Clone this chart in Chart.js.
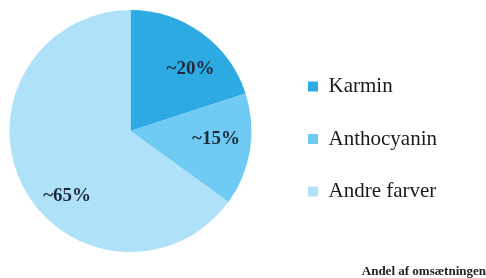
<!DOCTYPE html>
<html>
<head>
<meta charset="utf-8">
<script src="https://cdn.jsdelivr.net/npm/chart.js@4"></script>
<style>
  html, body { margin: 0; padding: 0; background: #fff; }
  #wrap { width: 486px; height: 278px; position: relative; }
</style>
</head>
<body>
<div id="wrap"><canvas id="pieChart"></canvas></div>
<script>
// chart data
const categories = ["Karmin", "Anthocyanin", "Andre farver"];
const shares = [20, 15, 65];
const sliceLabels = ["~20%", "~15%", "~65%"];
const sliceColors = ["#2eaae2", "#6fcbf3", "#afe1f9"];
const footText = "Andel af omsætningen";

// draws the ~xx% text inside each slice
const sliceText = {
  id: "sliceText",
  afterDatasetsDraw(chart, args, opts) {
    const ctx = chart.ctx;
    const arcs = chart.getDatasetMeta(0).data;
    ctx.save();
    ctx.font = opts.font;
    ctx.fillStyle = opts.color;
    ctx.textAlign = "center";
    ctx.textBaseline = "middle";
    arcs.forEach((arc, i) => {
      const p = arc.getProps(["x", "y", "startAngle", "endAngle", "outerRadius"], true);
      const a = p.startAngle + (p.endAngle - p.startAngle) * opts.along[i];
      const r = p.outerRadius * opts.radius[i];
      ctx.fillText(sliceLabels[i], p.x + Math.cos(a) * r, p.y + Math.sin(a) * r);
    });
    ctx.restore();
  }
};

// keep the pie on the left and move the legend a bit to the right
const legendSpot = {
  id: "legendSpot",
  beforeUpdate(chart, args, opts) {
    const legend = chart.legend;
    if (legend && !legend._fixed) {
      const fit = legend.fit;
      legend.fit = function () {
        fit.call(this);
        this.width = opts.width;
      };
      legend._fixed = true;
    }
  },
  afterLayout(chart, args, opts) {
    chart.legend.left += opts.dx;
    chart.legend.top += opts.dy;
  }
};

new Chart(document.getElementById("pieChart"), {
  type: "pie",
  data: {
    labels: categories,
    datasets: [{
      data: shares,
      backgroundColor: sliceColors,
      borderWidth: 0
    }]
  },
  plugins: [sliceText, legendSpot],
  options: {
    responsive: true,
    maintainAspectRatio: false,
    animation: false,
    layout: { padding: { top: 10, left: 0, right: 0, bottom: 0 } },
    plugins: {
      tooltip: { enabled: false },
      legend: {
        position: "right",
        align: "start",
        labels: {
          boxWidth: 10,
          boxHeight: 10,
          padding: 31.5,
          color: "#1a1a1a",
          font: { family: "Liberation Serif", size: 21 }
        }
      },
      legendSpot: { width: 225, dx: 15.5, dy: 34.5 },
      title: {
        display: true,
        text: footText,
        position: "bottom",
        align: "end",
        color: "#222",
        font: { family: "Liberation Serif", size: 13, lineHeight: 1 },
        padding: { top: 13, bottom: 0 }
      },
      sliceText: {
        font: "bold 19px 'Liberation Serif'",
        color: "#1c2b3a",
        along: [0.615, 0.43, 0.42],
        radius: [0.71, 0.71, 0.75]
      }
    }
  }
});
</script>
</body>
</html>
